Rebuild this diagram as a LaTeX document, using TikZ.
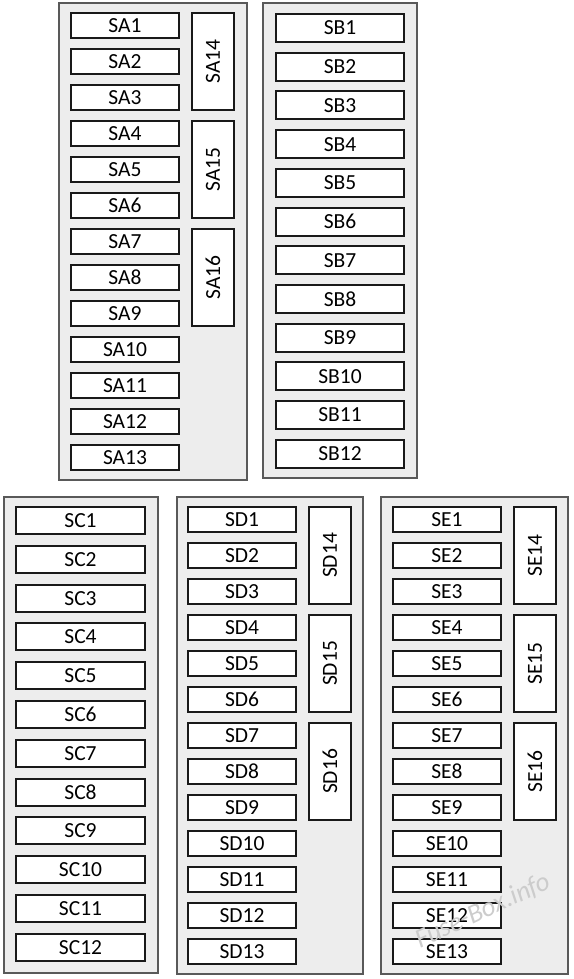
\documentclass[tikz,border=0pt]{standalone}
\usepackage{fontspec}
\setmainfont{Carlito}
\begin{document}
\begin{tikzpicture}[x=1pt,y=-1pt,
  panel/.style={draw=black!65,line width=1.2pt,fill=black!7},
  fuse/.style={draw=black!90,line width=2pt,fill=white,inner sep=0pt,outer sep=0pt,
    font=\fontsize{21.5}{24}\selectfont},
  fa/.style={fuse,minimum width=108pt,minimum height=25pt},
  fb/.style={fuse,minimum width=128pt,minimum height=28pt},
  fc/.style={fuse,minimum width=129pt,minimum height=27pt},
  fv/.style={fuse,rotate=90,minimum width=97pt,minimum height=42pt},
  wm/.style={text=black!20,font=\fontsize{27}{28}\selectfont\itshape,rotate=25,inner sep=0pt}]
\useasboundingbox (0,0) rectangle (573,979);
\fill[white] (0,0) rectangle (573,979);
% panel A
\draw[panel] (59,3) rectangle (247,480);
\foreach \i in {1,...,13} {
  \node[fa] (SA\i) at (125,{25.5+36*(\i-1)}) {SA\i};
}
\foreach \k/\n in {0/14,1/15,2/16} {
  \node[fv] (SA\n) at (213,{61.5+108*\k}) {SA\n};
}
% panel B
\draw[panel] (263,3) rectangle (417,478);
\foreach \i in {1,...,12} {
  \node[fb] (SB\i) at (340,{28+38.7*(\i-1)}) {SB\i};
}
% panel C
\draw[panel] (4,497) rectangle (158,973);
\foreach \i in {1,...,12} {
  \node[fc] (SC\i) at (80.5,{520.5+38.8*(\i-1)}) {SC\i};
}
% panel D
\draw[panel] (177,497) rectangle (363,974);
\foreach \i in {1,...,13} {
  \node[fa] (SD\i) at (242,{519.5+36*(\i-1)}) {SD\i};
}
\foreach \k/\n in {0/14,1/15,2/16} {
  \node[fv] (SD\n) at (330,{555.5+108*\k}) {SD\n};
}
% panel E
\draw[panel] (381,497) rectangle (568,974);
\foreach \i in {1,...,13} {
  \node[fa] (SE\i) at (447,{519.5+36*(\i-1)}) {SE\i};
}
\foreach \k/\n in {0/14,1/15,2/16} {
  \node[fv] (SE\n) at (535,{555.5+108*\k}) {SE\n};
}
% watermark
\node[wm] (wmark) at (483,911) {Fuse-Box.info};
\end{tikzpicture}
\end{document}
